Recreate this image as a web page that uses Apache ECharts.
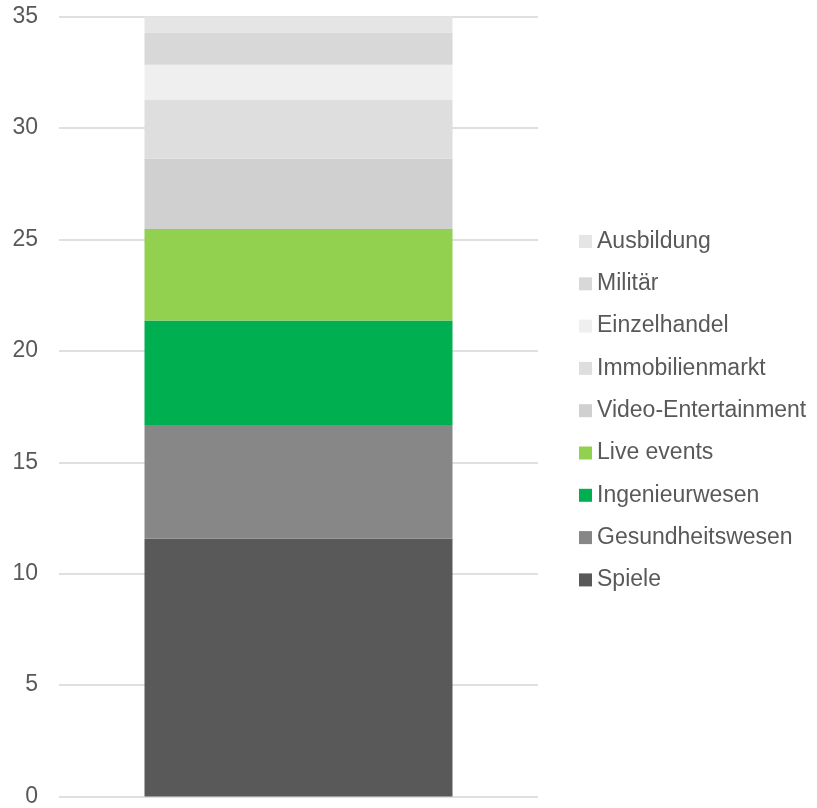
<!DOCTYPE html>
<html><head><meta charset="utf-8">
<script src="https://cdn.jsdelivr.net/npm/echarts@6/dist/echarts.min.js"></script>
<style>html,body{margin:0;padding:0;background:#fff}#c{width:817px;height:808px}</style>
</head><body><div id="c"></div>
<script>
const categories = ['Gesamt'];
const seriesNames = ['Spiele','Gesundheitswesen','Ingenieurwesen','Live events','Video-Entertainment','Immobilienmarkt','Einzelhandel','Militär','Ausbildung'];
const seriesValues = [11.57, 5.10, 4.69, 4.11, 3.17, 2.64, 1.56, 1.45, 0.71];
const seriesColors = ['#595959','#878787','#00B050','#92D050','#D0D0D0','#DEDEDE','#EFEFEF','#D8D8D8','#E5E5E5'];
const yTicks = [0, 5, 10, 15, 20, 25, 30, 35];

const chart = echarts.init(document.getElementById('c'), null, {renderer:'canvas'});
const font = 'Liberation Sans, Arial, sans-serif';
chart.setOption({
  animation: false,
  textStyle: {fontFamily: font},
  grid: {left: 59, right: 279, top: 16.7, bottom: 8, containLabel: false},
  legend: {
    orient: 'vertical', left: 574, top: 225,
    data: seriesNames.slice().reverse(),
    icon: 'rect', itemWidth: 13, itemHeight: 13, itemGap: 19.3,
    textStyle: {fontSize: 23, color: '#595959', fontFamily: font, lineHeight: 23}
  },
  xAxis: {
    type: 'category', data: categories,
    axisLine: {show: false}, axisTick: {show: false}, axisLabel: {show: false}
  },
  yAxis: {
    type: 'value', min: yTicks[0], max: yTicks[yTicks.length-1], interval: 5,
    axisLine: {show: false}, axisTick: {show: false},
    axisLabel: {fontSize: 23, color: '#595959', margin: 21, fontFamily: font},
    splitLine: {lineStyle: {color: '#e0e0e0', width: 2}}
  },
  series: seriesNames.map((n, i) => ({
    name: n, type: 'bar', stack: 'total', barWidth: 308,
    itemStyle: {color: seriesColors[i]},
    data: [seriesValues[i]]
  }))
});
</script></body></html>
